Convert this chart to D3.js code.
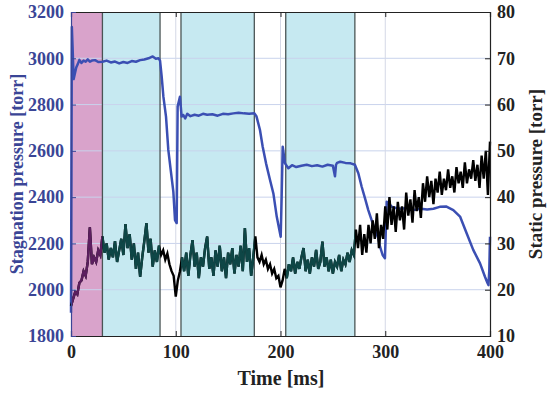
<!DOCTYPE html>
<html>
<head>
<meta charset="utf-8">
<script src="https://cdn.jsdelivr.net/npm/d3@7"></script>
<style>
body { margin: 0; background: #fff; }
svg { display: block; }
text { font-family: "Liberation Serif", "Times New Roman", serif; font-weight: bold; }
</style>
</head>
<body>
<svg width="550" height="393"></svg>
<script>
var svg = d3.select('svg')

// shaded test phases [start, end, kind]
var phases = [
	[0, 30, 'ignite'],
	[30, 85, 'steady'],
	[105, 175, 'steady'],
	[205, 271, 'steady']
]
var phaseBorders = [30, 85, 105, 175, 205, 271]

// stagnation pressure (left axis)
var stagTime = [0, 0.8, 1.5, 2.5, 3.5, 5, 6.5, 8, 10, 12, 14, 16, 18, 20, 23, 26, 30, 34, 38, 42, 46, 50, 54, 58, 62, 66, 70, 74, 78, 81, 83.5,
	85, 86.6, 88.2, 90.7, 92.9, 95.2, 97.7, 99.3, 100.9, 101.8, 104, 105.6, 107.2, 109, 111, 114, 118, 122, 126, 130, 135, 140, 145, 150, 155, 160, 165, 170, 175,
	177, 180.4, 183, 186.2, 190, 193.2, 196.4, 200.2, 201.1, 202.1, 204.3, 207.5, 211, 215, 220, 225, 230, 235, 240, 245, 250, 252, 253, 254, 257, 262, 267, 271,
	274.3, 277.5, 280.7, 283.8, 287, 290.2, 293.4, 295, 297.5, 299.7, 301.4, 304, 306, 311, 316, 322, 328, 334, 340, 346, 352, 358, 365, 371.4, 377.7, 384, 390.5, 395.2, 397.5, 398.5, 399.3, 400]
var stagVal = [1900, 3135, 3050, 2910, 2930, 2960, 2975, 2993, 2980, 2990, 2985, 2995, 2985, 2990, 2992, 2984, 2985, 2990, 2982, 2986, 2978, 2984, 2980, 2988, 2985, 2992, 2995, 3000, 3008, 2998, 3000,
	2990, 2920, 2834, 2748, 2604, 2517, 2424, 2301, 2288, 2791, 2834, 2748, 2755, 2740, 2760, 2750, 2756, 2752, 2760, 2756, 2758, 2752, 2760, 2758, 2762, 2765, 2762, 2760, 2762,
	2750, 2690, 2618, 2546, 2474, 2416, 2316, 2229, 2402, 2618, 2546, 2525, 2538, 2530, 2536, 2540, 2534, 2538, 2532, 2540, 2536, 2490, 2540, 2548, 2553, 2548, 2546, 2540,
	2503, 2445, 2395, 2344, 2301, 2258, 2222, 2186, 2150, 2136, 2380, 2370, 2359, 2352, 2350, 2355, 2345, 2350, 2347, 2350, 2358, 2360, 2344, 2316, 2244, 2172, 2114, 2056, 2030, 2020, 2080, 2229]

// static pressure (right axis), sampled every 2 ms
var staticStep = 2
var staticVals = [
	16.5, 18, 19.5, 19, 21.5, 22, 24, 23, 26, 33.5, 25.5, 27, 26, 28.5, 27.5,
	31.5, 28, 30, 26.5, 29, 27, 30.5, 26, 28.5, 31, 27.5, 34.2, 29, 32, 26.5, 30, 24.5, 28, 22.8, 27, 30.5, 34.4, 28, 31, 25, 28.5, 26, 29.5,
	27.5, 28.5, 26.5, 27.8, 25.5, 24, 23, 18.5, 22, 24,
	27, 24, 28, 23, 27.5, 30.7, 25, 28, 22.5, 27, 25, 29, 31.5, 24.5, 27, 23, 28.5, 25, 29.5, 24, 27, 22.5, 28, 25.5, 29, 23.5, 27.5, 25, 29.5, 24, 33.3, 26, 29, 23, 27,
	31.5, 27, 26, 27.5, 25.5, 26.5, 24.5, 25.5, 23.5, 24.5, 22.5, 23, 20.5, 22, 24.5,
	22.5, 25.5, 24, 27, 23.5, 26, 24.5, 27, 29, 24, 26.5, 23.5, 27, 25, 28.6, 24.5, 26, 30.4, 25, 27, 24, 26.5, 23.5, 26, 25, 27.5, 24, 26.5, 25.5, 28, 26, 28.5, 27.5,
	33, 29, 34, 27.5, 32, 28, 34, 30, 35, 31, 36.5, 29, 34, 31, 38, 33, 40, 34, 38, 32.5, 39, 35, 38, 33, 41, 36, 39.5, 34.5, 41.5, 37, 40, 35.5, 43, 39, 44.5, 40,
	43.5, 38.5, 44, 41, 45.5, 40.5, 44, 41.5, 46, 42, 44.5, 41, 46.5, 43, 45.5, 42, 47.5, 43, 46, 44, 48, 43.5, 47, 42, 49, 44, 50, 40.5, 52
]

var xTicks = [0, 100, 200, 300, 400]
var leftTicks = [1800, 2000, 2200, 2400, 2600, 2800, 3000, 3200]
var rightTicks = [10, 20, 30, 40, 50, 60, 70, 80]

var plotL = 71, plotR = 490, plotT = 12, plotB = 336

var x = d3.scaleLinear().domain([0, 400]).range([plotL, plotR])
var yL = d3.scaleLinear().domain([1800, 3200]).range([plotB, plotT])
var yR = d3.scaleLinear().domain([10, 80]).range([plotB, plotT])

var blue = '#3b4fb3'
var axisBlue = '#3a4596'
var fills = {ignite: '#d9a3cb', steady: '#c6e9f1'}
var staticColors = {ignite: '#5c1e5f', steady: '#0e4646', none: '#000'}

// shading
svg.selectAll('rect.phase')
	.data(phases)
	.enter()
	.append('rect')
	.attr('x', function(d) { return x(d[0]) })
	.attr('y', plotT)
	.attr('width', function(d) { return x(d[1]) - x(d[0]) })
	.attr('height', plotB - plotT)
	.attr('fill', function(d) { return fills[d[2]] })

// grid
var grid = svg.append('g')
grid.selectAll('line.h')
	.data(leftTicks.slice(1, -1))
	.enter()
	.append('line')
	.attr('x1', plotL).attr('x2', plotR)
	.attr('y1', function(d) { return yL(d) }).attr('y2', function(d) { return yL(d) })
	.attr('stroke', '#c9d3ec').attr('stroke-width', 1)
grid.selectAll('line.v')
	.data(xTicks.slice(1, -1))
	.enter()
	.append('line')
	.attr('y1', plotT).attr('y2', plotB)
	.attr('x1', function(d) { return x(d) }).attr('x2', function(d) { return x(d) })
	.attr('stroke', '#d4d8e6').attr('stroke-width', 1)

// phase borders
svg.selectAll('line.border')
	.data(phaseBorders)
	.enter()
	.append('line')
	.attr('y1', plotT).attr('y2', plotB)
	.attr('x1', function(d) { return x(d) }).attr('x2', function(d) { return x(d) })
	.attr('stroke', '#4a5555').attr('stroke-width', 1.3)

// clip paths so static line changes colour per phase
var defs = svg.append('defs')
phases.forEach(function(p, i) {
	defs.append('clipPath').attr('id', 'clip' + i)
		.append('rect')
		.attr('x', x(p[0])).attr('y', 0)
		.attr('width', x(p[1]) - x(p[0])).attr('height', 393)
})

var staticData = staticVals.map(function(v, i) { return [i * staticStep, v] })
var staticLine = d3.line()
	.x(function(d) { return x(d[0]) })
	.y(function(d) { return yR(d[1]) })

var stagData = stagTime.map(function(t, i) { return [t, stagVal[i]] })
var stagLine = d3.line()
	.x(function(d) { return x(d[0]) })
	.y(function(d) { return yL(d[1]) })

svg.append('path')
	.attr('d', stagLine(stagData))
	.attr('fill', 'none')
	.attr('stroke', blue)
	.attr('stroke-width', 2.5)
	.attr('stroke-linejoin', 'round')

svg.append('path')
	.attr('d', staticLine(staticData))
	.attr('fill', 'none')
	.attr('stroke', staticColors.none)
	.attr('stroke-width', 2.4)

phases.forEach(function(p, i) {
	svg.append('path')
		.attr('d', staticLine(staticData))
		.attr('clip-path', 'url(#clip' + i + ')')
		.attr('fill', 'none')
		.attr('stroke', staticColors[p[2]])
		.attr('stroke-width', 2.4)
})

// axes box
var xAxisB = d3.axisBottom(x).tickValues(xTicks).tickSize(-5).tickPadding(9)
var xAxisT = d3.axisTop(x).tickValues(xTicks).tickSize(-5).tickFormat('')
var yAxisL = d3.axisLeft(yL).tickValues(leftTicks).tickFormat(d3.format('d')).tickSize(-5).tickPadding(7)
var yAxisR = d3.axisRight(yR).tickValues(rightTicks).tickSize(-5).tickPadding(7)

function styleAxis(g, color) {
	g.select('.domain').attr('stroke', color).attr('stroke-width', 1.2)
	g.selectAll('.tick line').attr('stroke', color)
	g.selectAll('.tick text')
		.attr('fill', color)
		.style('font-size', '18px')
		.style('font-family', '"Liberation Serif", "Times New Roman", serif')
		.style('font-weight', 'bold')
}

var gb = svg.append('g').attr('transform', 'translate(0,' + plotB + ')').call(xAxisB)
styleAxis(gb, '#222')
var gt = svg.append('g').attr('transform', 'translate(0,' + plotT + ')').call(xAxisT)
styleAxis(gt, '#222')
var gr = svg.append('g').attr('transform', 'translate(' + plotR + ',0)').call(yAxisR)
styleAxis(gr, '#222')
var gl = svg.append('g').attr('transform', 'translate(' + plotL + ',0)').call(yAxisL)
styleAxis(gl, axisBlue)

// titles
svg.append('text')
	.attr('x', 281).attr('y', 385)
	.attr('text-anchor', 'middle')
	.attr('font-size', 20)
	.attr('fill', '#222')
	.text('Time [ms]')

svg.append('text')
	.attr('transform', 'translate(23,' + (plotT + plotB) / 2 + ') rotate(-90)')
	.attr('text-anchor', 'middle')
	.attr('font-size', 18)
	.attr('fill', axisBlue)
	.text('Stagnation pressure [torr]')

svg.append('text')
	.attr('transform', 'translate(542,' + (plotT + plotB) / 2 + ') rotate(-90)')
	.attr('text-anchor', 'middle')
	.attr('font-size', 19)
	.attr('fill', '#222')
	.text('Static pressure [torr]')
</script>
</body>
</html>
